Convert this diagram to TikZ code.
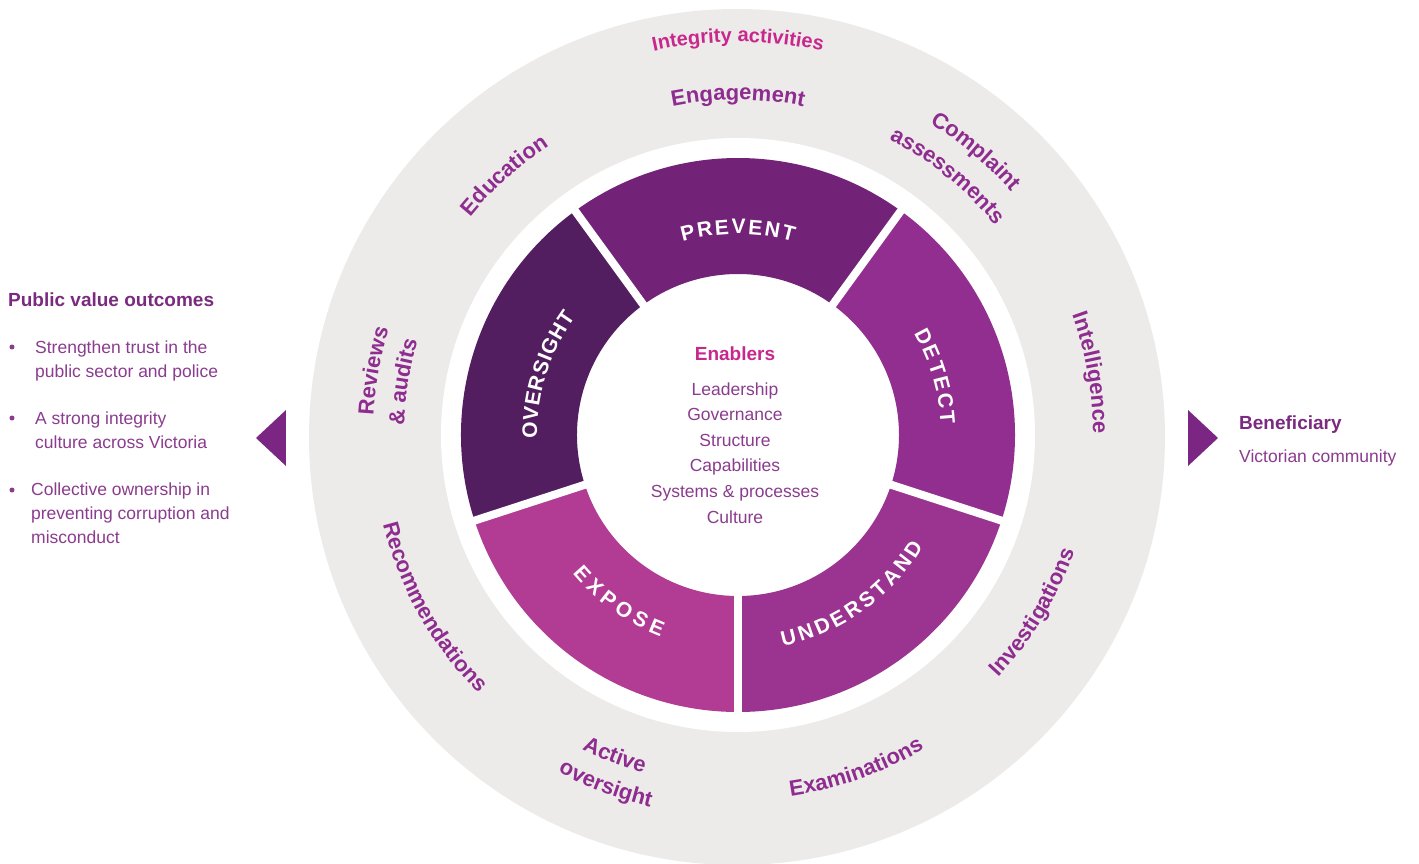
\documentclass[tikz,border=0pt]{standalone}
\definecolor{RingGrey}{HTML}{EDEBEA}
\definecolor{OversightPurple}{HTML}{521E60}
\definecolor{PreventPurple}{HTML}{722378}
\definecolor{DetectPurple}{HTML}{912E8F}
\definecolor{UnderstandPurple}{HTML}{9B3491}
\definecolor{ExposePink}{HTML}{B23B93}
\definecolor{LabelPurple}{HTML}{8E2C8F}
\definecolor{IntegrityPink}{HTML}{C8288C}
\definecolor{HeadPurple}{HTML}{7A2B80}
\definecolor{ListPurple}{HTML}{8B3C8F}
\definecolor{ArrowPurple}{HTML}{7B2682}
\usepackage{fontspec}
\setmainfont{Liberation Sans}
\usepackage{tikz}
\usetikzlibrary{decorations.text}

% text set along an arc: radius, start angle, end angle, format, text
\newcommand{\ringtext}[5]{%
  \path[decorate, decoration={text along path, text align=center, text={|#4|#5}}]
    (#2:#1) arc[start angle=#2, end angle=#3, radius=#1];}
% spaced capitals filling a whole arc
\newcommand{\segtext}[4]{%
  \path[decorate, decoration={text along path, text align=fit to path, text={|\segfont|#4}}]
    (#2:#1) arc[start angle=#2, end angle=#3, radius=#1];}
\newcommand{\segfont}{\color{white}\fontsize{21}{25}\selectfont\bfseries}
\newcommand{\ringfont}{\color{LabelPurple}\fontsize{22}{26}\selectfont\bfseries}
\newcommand{\topfont}{\color{IntegrityPink}\fontsize{20}{24}\selectfont\bfseries}

\begin{document}
\begin{tikzpicture}[x=1pt, y=1pt,
    headfont/.style={font=\fontsize{19}{23}\selectfont\bfseries, text=HeadPurple, inner xsep=0pt},
    listfont/.style={font=\fontsize{17.5}{24}\selectfont, text=ListPurple, inner xsep=0pt}]
  \fill[white] (-738,-428) rectangle (681,435);
  \useasboundingbox (-738,-428) rectangle (681,435);

  % Grey ring of activities
  \fill[RingGrey] (-1,-2) circle (428);
  \fill[white] (0,0) circle (297);

  % Five segments
  \foreach \from/\to/\col in {54/126/PreventPurple, 126/198/OversightPurple,
      198/270/ExposePink, 270/342/UnderstandPurple, 342/414/DetectPurple}
    \fill[\col] (\from:161) arc[start angle=\from, end angle=\to, radius=161]
      -- (\to:277) arc[start angle=\to, end angle=\from, radius=277] -- cycle;
  \foreach \a in {54,126,198,270,342}
    \draw[white, line width=8pt] (\a:150) -- (\a:290);

  % Segment names
  \segtext{201}{106}{74}{PREVENT}
  \segtext{203}{30}{3}{DETECT}
  \segtext{216}{282}{329}{UNDERSTAND}
  \segtext{216}{220}{249}{EXPOSE}
  \segtext{201}{181}{144}{OVERSIGHT}

  % Activities round the ring
  \ringtext{393}{120}{60}{\topfont}{Integrity activities}
  \ringtext{335}{120}{60}{\ringfont}{Engagement}
  \ringtext{366}{80}{20}{\ringfont}{Complaint}
  \ringtext{332}{81}{21}{\ringfont}{assessments}
  \ringtext{355}{40}{-20}{\ringfont}{Intelligence}
  \ringtext{356}{299}{359}{\ringfont}{Investigations}
  \ringtext{365}{259.5}{319.5}{\ringfont}{Examinations}
  \ringtext{351}{219}{279}{\ringfont}{Active}
  \ringtext{382}{219.3}{279.3}{\ringfont}{oversight}
  \ringtext{366}{179.5}{239.5}{\ringfont}{Recommendations}
  \ringtext{365}{200}{140}{\ringfont}{Reviews}
  \ringtext{334}{201}{141}{\ringfont}{{\&} audits}
  \ringtext{345}{162}{102}{\ringfont}{Education}

  % Enablers in the middle
  \node[headfont, text=IntegrityPink, anchor=base] (enablers) at (-3,75) {Enablers};
  \node[listfont, font=\fontsize{17.5}{25.6}\selectfont, align=center, anchor=base]
    (enablerlist) at (-3,-88)
    {Leadership\\Governance\\Structure\\Capabilities\\Systems \& processes\\Culture};

  % Public value outcomes
  \node[headfont, anchor=base west] (outcomes) at (-730,129) {Public value outcomes};
  \node[listfont, align=left, anchor=base west] (trust) at (-703,58)
    {Strengthen trust in the\\public sector and police};
  \node[listfont, align=left, anchor=base west] (culture) at (-703,-13)
    {A strong integrity\\culture across Victoria};
  \node[listfont, align=left, anchor=base west] (ownership) at (-707,-108)
    {Collective ownership in\\preventing corruption and\\misconduct};
  \foreach \y in {88,17,-55}
    \fill[ListPurple] (-726,\y) circle (2.5);
  \fill[ArrowPurple] (-482,-3) -- (-452,25) -- (-452,-31) -- cycle;

  % Beneficiary
  \fill[ArrowPurple] (480,-3) -- (450,25) -- (450,-31) -- cycle;
  \node[headfont, anchor=base west] (beneficiary) at (501,6) {Beneficiary};
  \node[listfont, anchor=base west] (community) at (501,-27) {Victorian community};
\end{tikzpicture}
\end{document}
